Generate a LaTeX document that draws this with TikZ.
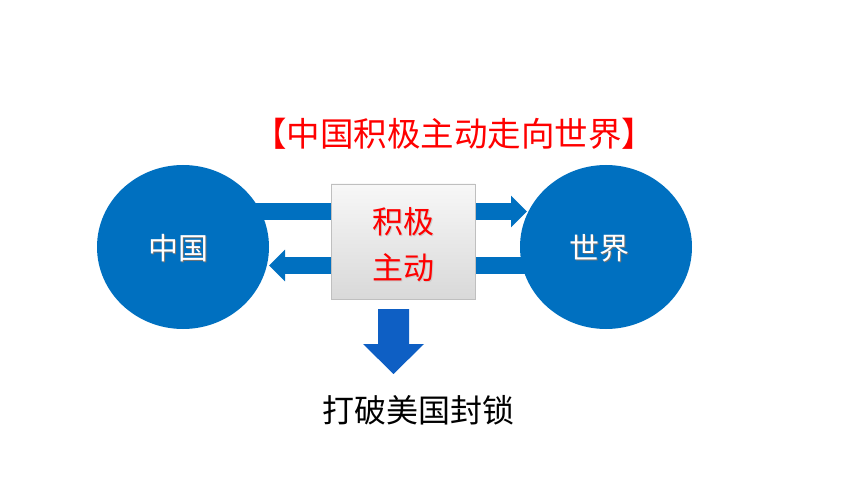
\documentclass[tikz,border=0pt]{standalone}
\usepackage{fontspec}
\usetikzlibrary{shapes.geometric,arrows.meta}
\newfontfamily\cjk{Noto Sans CJK SC}
\definecolor{cblue}{HTML}{0070C0}
\definecolor{dblue}{HTML}{0E5FC4}
\definecolor{tred}{HTML}{FF0000}
\begin{document}
\begin{tikzpicture}[x=1pt,y=-1pt,
  circ/.style={ellipse,fill=cblue,minimum width=172pt,minimum height=164pt,inner sep=0pt},
  band/.style={cblue,line width=17pt,-{Triangle[length=16pt,width=31pt]}},
  ctext/.style={font=\cjk\fontsize{30}{32}\selectfont,text=white},
  cshadow/.style={font=\cjk\fontsize{30}{32}\selectfont,text=black!55},
  boxstyle/.style={draw=black!25,line width=0.6pt,top color=white!97!black,bottom color=black!15,minimum width=144pt,minimum height=115pt,inner sep=0pt},
  redtext/.style={font=\cjk\fontsize{31}{46}\selectfont,text=tred,align=center}]
\useasboundingbox (0,0) rectangle (860,484);
% circles
\node[circ] (china) at (183,247) {};
\node[circ] (world) at (606,247) {};
% band end points
\coordinate (a1) at (255,211.5);
\coordinate (a2) at (527,211.5);
\coordinate (b1) at (535,265.5);
\coordinate (b2) at (269,265.5);
\draw[band] (a1) -- (a2);
\draw[band] (b1) -- (b2);
% central box
\node[boxstyle] (box) at (403,241.5) {};
\node[redtext,text=black!20] at (404,246) {积极\\主动};
\node[redtext] (boxtext) at (403,245) {积极\\主动};
% circle labels
\node[cshadow] at (179,249) {中国};
\node[ctext] (chinatext) at (178,248) {中国};
\node[cshadow] at (600,249) {世界};
\node[ctext] (worldtext) at (599,248) {世界};
% title
\node[font=\cjk\fontsize{33.5}{35}\selectfont,text=tred] (title) at (454,134) {【中国积极主动走向世界】};
% result text
\node[font=\cjk\fontsize{32}{34}\selectfont,text=black] (result) at (418,410) {打破美国封锁};
% down arrow
\fill[dblue] (378,309) -- (409,309) -- (409,344) -- (424,344) -- (393.5,374) -- (363,344) -- (378,344) -- cycle;
\end{tikzpicture}
\end{document}
